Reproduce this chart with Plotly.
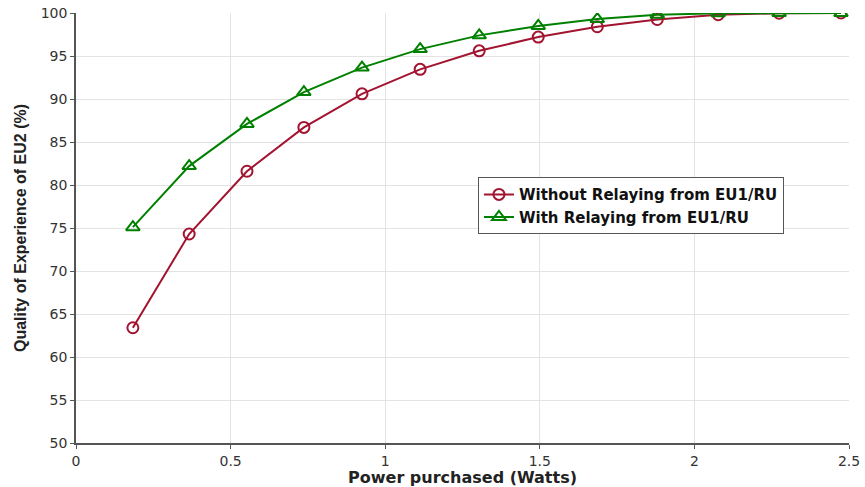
import plotly.graph_objects as go

power = [0.184, 0.366, 0.553, 0.737, 0.925, 1.113, 1.304, 1.495, 1.686, 1.880, 2.077, 2.274, 2.474]
qoe_without = [63.4, 74.3, 81.6, 86.7, 90.6, 93.45, 95.6, 97.2, 98.4, 99.25, 99.8, 99.97, 100.0]
qoe_with = [75.1, 82.2, 87.1, 90.8, 93.65, 95.8, 97.4, 98.5, 99.3, 99.8, 99.96, 100.0, 100.0]

red = "#A2142F"
green = "#008000"

fig = go.Figure()
fig.add_trace(go.Scatter(
    x=power, y=qoe_without, mode="lines+markers",
    name="<b>Without Relaying from EU1/RU</b>",
    line=dict(color=red, width=2),
    marker=dict(symbol="circle-open", size=11, color=red, line=dict(width=2)),
))
fig.add_trace(go.Scatter(
    x=power, y=qoe_with, mode="lines+markers",
    name="<b>With Relaying from EU1/RU</b>",
    line=dict(color=green, width=2),
    marker=dict(symbol="triangle-up-open", size=12, color=green, line=dict(width=2)),
))

axis_common = dict(
    showgrid=True, gridcolor="#E3E3E3", gridwidth=1,
    showline=True, linecolor="#555555", linewidth=1.5,
    ticks="outside", ticklen=4, tickcolor="#555555",
    tickfont=dict(family="DejaVu Sans", size=14, color="#333333"),
    zeroline=False, mirror=False, automargin=False,
    ticklabeloverflow="allow",
)

fig.update_layout(
    width=865, height=487,
    margin=dict(l=76, r=16, t=13, b=44),
    paper_bgcolor="white", plot_bgcolor="white",
    xaxis=dict(range=[0, 2.5], tickvals=[0, 0.5, 1, 1.5, 2, 2.5],
               ticktext=["0", "0.5", "1", "1.5", "2", "2.5"],
               title=dict(text="<b>Power purchased (Watts)</b>", standoff=2,
                          font=dict(family="DejaVu Sans", size=16, color="#222222")),
               **axis_common),
    yaxis=dict(range=[50, 100], dtick=5,
               title=dict(text="<b>Quality of Experience of EU2 (%)</b>", standoff=10,
                          font=dict(family="Liberation Sans", size=16, color="#222222")),
               **axis_common),
    legend=dict(x=0.52, y=0.552, xanchor="left", yanchor="middle",
                bgcolor="white", bordercolor="#555555", borderwidth=1,
                font=dict(family="DejaVu Sans", size=15, color="#111111"),
                tracegroupgap=0),
    showlegend=True,
)

fig.write_html("out.html", config={"displayModeBar": False},
               post_script="document.body.style.margin='0';")
